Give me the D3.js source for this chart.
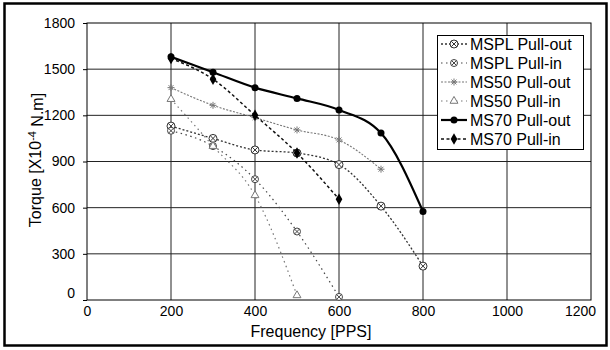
<!DOCTYPE html>
<html><head><meta charset="utf-8">
<script src="https://cdn.jsdelivr.net/npm/d3@7"></script>
<style>body{margin:0;background:#fff}svg{display:block}text{font-family:"Liberation Sans",Arial,sans-serif;fill:#000}</style>
</head><body><svg id="c" width="610" height="350"></svg>
<script>
const xTicks = [0,200,400,600,800,1000,1200];
const yTicks = [0,300,600,900,1200,1500,1800];
const freq = [200,300,400,500,600,700,800];
const msplOut = [1130,1050,975,955,880,610,220];
const msplIn  = [1100,1000,785,445,20];
const ms50Out = [1380,1265,1185,1105,1040,850];
const ms50In  = [1305,1000,680,30];
const ms70Out = [1580,1480,1380,1310,1235,1085,575];
const ms70In  = [1570,1435,1200,955,655];
const names = ["MSPL Pull-out","MSPL Pull-in","MS50 Pull-out","MS50 Pull-in","MS70 Pull-out","MS70 Pull-in"];

const series = [
  {name:names[0], vals:msplOut, color:"#333", width:1.3, dash:"2,2", marker:"ox", r:4},
  {name:names[1], vals:msplIn,  color:"#444", width:1.2, dash:"1.5,3.5", marker:"ox", r:3.5},
  {name:names[2], vals:ms50Out, color:"#777", width:1.1, dash:"2,1.5", marker:"star", r:3.5},
  {name:names[3], vals:ms50In,  color:"#777", width:1.2, dash:"1.5,3.5", marker:"tri", r:3},
  {name:names[4], vals:ms70Out, color:"#000", width:2.2, dash:null, marker:"dot", r:3.5},
  {name:names[5], vals:ms70In,  color:"#111", width:1.5, dash:"3,2.5", marker:"diamond", r:4}
];

const svg = d3.select("#c");
const L=87,R=591,T=23,B=300;
const x = d3.scaleLinear().domain([0,1200]).range([L,R]);
const y = d3.scaleLinear().domain([0,1800]).range([B,T]);

// outer border
svg.append("rect").attr("x",4.5).attr("y",3.5).attr("width",602).attr("height",342)
  .attr("fill","none").attr("stroke","#000").attr("stroke-width",2.5);

// grid
const g = svg.append("g");
g.selectAll(".vg").data(xTicks.slice(1,-1)).enter().append("line")
  .attr("x1",d=>x(d)).attr("x2",d=>x(d)).attr("y1",T).attr("y2",B)
  .attr("stroke","#222").attr("stroke-width",1);
g.selectAll(".hg").data(yTicks.slice(1,-1)).enter().append("line")
  .attr("x1",L).attr("x2",R).attr("y1",d=>y(d)).attr("y2",d=>y(d))
  .attr("stroke","#222").attr("stroke-width",1);

// axes
const fmt = d3.format("d");
const xAxis = d3.axisBottom(x).tickValues(xTicks).tickFormat(fmt).tickSize(0).tickPadding(6);
const yAxis = d3.axisLeft(y).tickValues(yTicks).tickFormat(fmt).tickSize(4).tickPadding(8);
const gx = svg.append("g").attr("transform",`translate(0,${B})`).call(xAxis);
const gy = svg.append("g").attr("transform",`translate(${L},0)`).call(yAxis);
[gx,gy].forEach(a=>{a.select(".domain").remove();
  a.selectAll("text").style("font-size","14px").style("font-family","Liberation Sans, Arial, sans-serif");
  a.selectAll("line").attr("stroke","#000");});
gy.selectAll(".tick").filter(d=>d===0).select("text").attr("dy","-0.2em");
gx.selectAll(".tick").filter(d=>d===1200).select("text").attr("dx","-11");
svg.append("rect").attr("x",L).attr("y",T).attr("width",R-L).attr("height",B-T)
  .attr("fill","none").attr("stroke","#000").attr("stroke-width",1);

// axis labels
svg.append("text").attr("x",311).attr("y",337).attr("text-anchor","middle")
  .style("font-size","16px").text("Frequency [PPS]");
const yl = svg.append("text").attr("transform","translate(41,160) rotate(-90)")
  .attr("text-anchor","middle").style("font-size","16px");
yl.append("tspan").text("Torque [X10");
yl.append("tspan").attr("dy","-0.45em").style("font-size","11px").text("-4");
yl.append("tspan").attr("dy","0.45em").text(" N.m]");

// markers
function drawMarker(sel, s, cx, cy){
  const m = sel.append("g").attr("transform",`translate(${cx},${cy})`);
  const r = s.r;
  if(s.marker==="ox"){
    m.append("circle").attr("r",r).attr("fill","#fff").attr("stroke",s.color).attr("stroke-width",1);
    const k=r*0.7;
    m.append("path").attr("d",`M${-k},${-k}L${k},${k}M${-k},${k}L${k},${-k}`).attr("stroke",s.color).attr("stroke-width",1);
  } else if(s.marker==="star"){
    const k=r;
    m.append("path").attr("d",`M${-k},0L${k},0M0,${-k}L0,${k}M${-k*0.7},${-k*0.7}L${k*0.7},${k*0.7}M${-k*0.7},${k*0.7}L${k*0.7},${-k*0.7}`)
      .attr("stroke",s.color).attr("stroke-width",1);
  } else if(s.marker==="tri"){
    m.append("path").attr("d",d3.symbol(d3.symbolTriangle,r*r*3)()).attr("fill","#fff").attr("stroke",s.color).attr("stroke-width",1);
  } else if(s.marker==="dot"){
    m.append("circle").attr("r",r).attr("fill","#000");
  } else if(s.marker==="diamond"){
    m.append("path").attr("d",d3.symbol(d3.symbolDiamond,r*r*2.4)()).attr("fill","#000");
  }
}

const line = d3.line().x(d=>x(d[0])).y(d=>y(d[1])).curve(d3.curveMonotoneX);
series.forEach(s=>{
  const pts = s.vals.map((v,i)=>[freq[i],v]);
  svg.append("path").datum(pts).attr("d",line).attr("fill","none")
    .attr("stroke",s.color).attr("stroke-width",s.width).attr("stroke-dasharray",s.dash);
  pts.forEach(p=>drawMarker(svg,s,x(p[0]),y(p[1])));
});

// legend
const lg = svg.append("g");
lg.append("rect").attr("x",437.5).attr("y",35.5).attr("width",146).attr("height",114)
  .attr("fill","#fff").attr("stroke","#000").attr("stroke-width",1);
series.forEach((s,i)=>{
  const cy = 44 + i*19;
  lg.append("line").attr("x1",441).attr("x2",467).attr("y1",cy).attr("y2",cy)
    .attr("stroke",s.color).attr("stroke-width",s.width).attr("stroke-dasharray",s.dash);
  drawMarker(lg,s,454,cy);
  lg.append("text").attr("x",470).attr("y",cy).attr("dy","0.35em").style("font-size","16px").text(s.name);
});
</script></body></html>
